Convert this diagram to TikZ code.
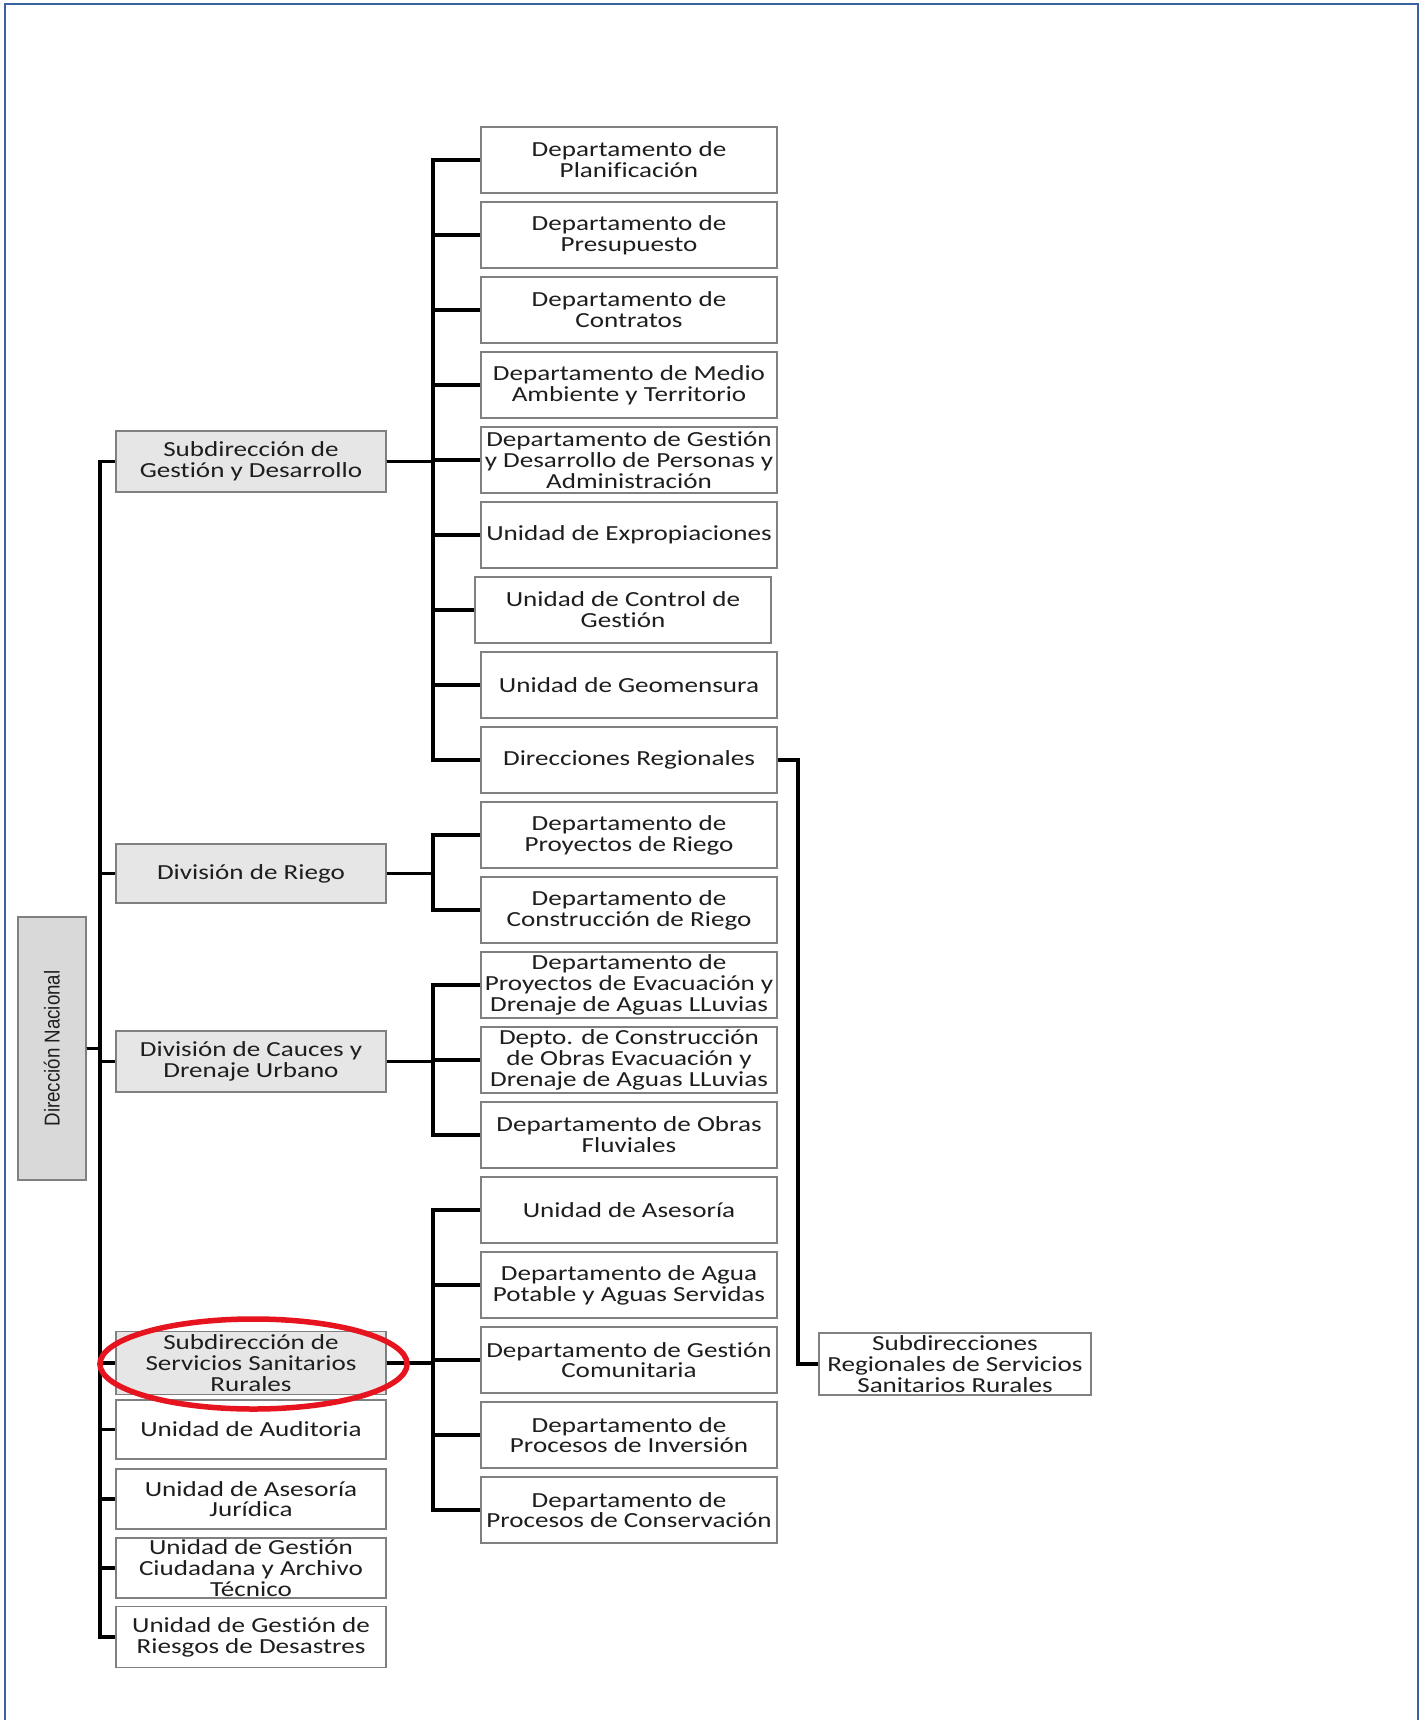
\documentclass[tikz,border=0pt]{standalone}
\usepackage{fontspec}
\setmainfont[FakeStretch=1.26,Ligatures=NoCommon]{Carlito}
\newfontfamily\dnfont[FakeStretch=0.87]{Liberation Sans}
\definecolor{frameblue}{RGB}{58,100,160}
\definecolor{boxgray}{RGB}{128,128,128}
\definecolor{fillone}{RGB}{230,230,230}
\definecolor{filldn}{RGB}{217,217,217}
\definecolor{txt}{RGB}{30,30,30}
\definecolor{hired}{RGB}{230,20,30}
\begin{document}
\begin{tikzpicture}[x=1pt,y=-1pt,
  base/.style={rectangle, draw=boxgray, line width=1.4pt, inner sep=0pt, align=center, text=txt, font=\fontsize{21.5}{20.8}\selectfont},
  deptbox/.style={base, fill=white, minimum width=296pt, minimum height=66pt},
  subbox/.style={base, fill=fillone, minimum width=270pt},
  unitbox/.style={base, fill=white, minimum width=270pt},
  conn/.style={line width=3.2pt, black},
  frameline/.style={line width=2.2pt, frameblue}]
\useasboundingbox (0,0) rectangle (1421,1720);
\fill[white] (0,0) rectangle (1421,1720);
\draw[frameline] (5,1721) -- (5,4) -- (1418,4) -- (1418,1721);

% trunk positions
\coordinate (mx) at (100,0);
\coordinate (bx) at (433,0);
\coordinate (rx) at (798,0);

% Direccion Nacional
\node[base, fill=filldn, minimum width=68pt, minimum height=263pt] (dn) at (51.8,1048.5) {};
\node[rotate=90, text=txt, font=\dnfont\fontsize{21.5}{24}\selectfont] (dnt) at (dn.center) {Dirección Nacional};

% level 1
\node[subbox, minimum height=61pt] (gd) at (251,461.5) {Subdirección de\\Gestión y Desarrollo};
\node[subbox, minimum height=59pt] (riego) at (251,873.5) {División de Riego};
\node[subbox, minimum height=61pt] (cauces) at (251,1061.5) {División de Cauces y\\Drenaje Urbano};
\node[subbox, minimum height=63pt] (ssr) at (251,1363) {Subdirección de\\Servicios Sanitarios\\Rurales};
\node[unitbox, minimum height=59pt] (aud) at (251,1429.5) {Unidad de Auditoria};
\node[unitbox, minimum height=60pt] (jur) at (251,1499) {Unidad de Asesoría\\Jurídica};
\node[unitbox, minimum height=60pt] (ciu) at (251,1568) {Unidad de Gestión\\Ciudadana y Archivo\\Técnico};
\node[unitbox, minimum height=61pt] (rie) at (251,1637) {Unidad de Gestión de\\Riesgos de Desastres};

% level 2
\node[deptbox] (d1) at (629,160) {Departamento de\\Planificación};
\node[deptbox] (d2) at (629,235) {Departamento de\\Presupuesto};
\node[deptbox] (d3) at (629,310) {Departamento de\\Contratos};
\node[deptbox] (d4) at (629,385) {Departamento de Medio\\Ambiente y Territorio};
\node[deptbox] (d5) at (629,460) {Departamento de Gestión\\y Desarrollo de Personas y\\Administración};
\node[deptbox] (d6) at (629,535) {Unidad de Expropiaciones};
\node[deptbox] (d7) at (623,610) {Unidad de Control de\\Gestión};
\node[deptbox] (d8) at (629,685) {Unidad de Geomensura};
\node[deptbox] (d9) at (629,760) {Direcciones Regionales};
\node[deptbox] (d10) at (629,835) {Departamento de\\Proyectos de Riego};
\node[deptbox] (d11) at (629,910) {Departamento de\\Construcción de Riego};
\node[deptbox] (d12) at (629,985) {Departamento de\\Proyectos de Evacuación y\\Drenaje de Aguas LLuvias};
\node[deptbox] (d13) at (629,1060) {Depto. de Construcción\\de Obras Evacuación y\\Drenaje de Aguas LLuvias};
\node[deptbox] (d14) at (629,1135) {Departamento de Obras\\Fluviales};
\node[deptbox] (d15) at (629,1210) {Unidad de Asesoría};
\node[deptbox] (d16) at (629,1285) {Departamento de Agua\\Potable y Aguas Servidas};
\node[deptbox] (d17) at (629,1360) {Departamento de Gestión\\Comunitaria};
\node[deptbox] (d18) at (629,1435) {Departamento de\\Procesos de Inversión};
\node[deptbox] (d19) at (629,1510) {Departamento de\\Procesos de Conservación};

% level 3
\node[base, fill=white, minimum width=272pt, minimum height=62pt] (sr) at (955,1364) {Subdirecciones\\Regionales de Servicios\\Sanitarios Rurales};

% main trunk
\foreach \t in {gd,riego,cauces,ssr,aud,jur,ciu,rie}
  \draw[conn] (dn.east) -- (dn.east -| mx) |- (\t.west);

% brackets
\foreach \t in {d1,d2,d3,d4,d5,d6,d7,d8,d9}
  \draw[conn] (gd.east) -- (gd.east -| bx) |- (\t.west);
\foreach \t in {d10,d11}
  \draw[conn] (riego.east) -- (riego.east -| bx) |- (\t.west);
\foreach \t in {d12,d13,d14}
  \draw[conn] (cauces.east) -- (cauces.east -| bx) |- (\t.west);
\foreach \t in {d15,d16,d17,d18,d19}
  \draw[conn] (ssr.east) -- (ssr.east -| bx) |- (\t.west);

\draw[conn] (d9.east) -- (d9.east -| rx) |- (sr.west);

% highlight
\draw[hired, line width=5.5pt] (253.5,1364) ellipse [x radius=153.6, y radius=45];
\end{tikzpicture}
\end{document}
